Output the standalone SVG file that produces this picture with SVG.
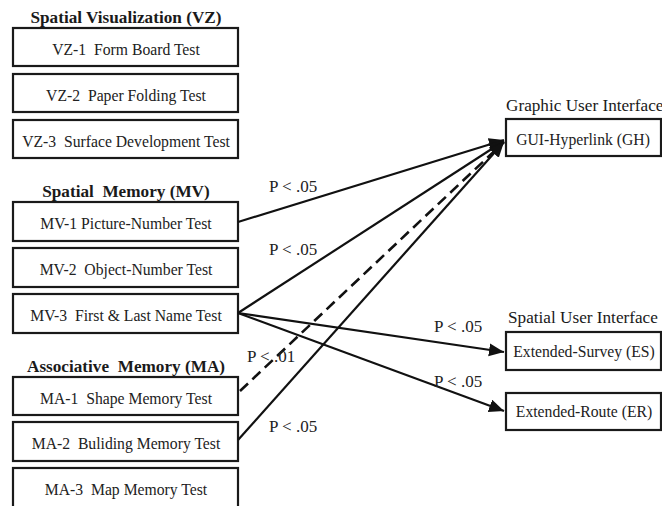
<svg xmlns="http://www.w3.org/2000/svg" width="662" height="506" viewBox="0 0 662 506" font-family="Liberation Serif, Times New Roman, serif">
  <style>
    text { font-family: 'Liberation Serif', 'Times New Roman', serif; white-space: pre; }
    .box { fill: #fff; stroke: #1a1a1a; stroke-width: 2.2; }
    .lbl { font-size: 15.7px; fill: #222; text-anchor: middle; }
    .head { font-size: 17.2px; font-weight: bold; fill: #1a1a1a; text-anchor: middle; }
    .rhead { font-size: 17.2px; fill: #1a1a1a; }
    .p { font-size: 17px; fill: #222; }
    .edge { fill: none; stroke: #111; stroke-width: 2.2; marker-end: url(#arrow); }
    .dash { stroke-dasharray: 11 6; stroke-width: 2.6; }
  </style>
  <defs>
    <marker id="arrow" markerUnits="userSpaceOnUse" markerWidth="18" markerHeight="14" refX="15" refY="6.5" orient="auto">
      <path d="M0,0 L15,6.5 L0,13 z" fill="#111"/>
    </marker>
  </defs>
  <rect width="662" height="506" fill="#fff"/>

  <!-- group headings -->
  <text class="head" x="126" y="23">Spatial Visualization (VZ)</text>
  <text class="head" x="126" y="197">Spatial  Memory (MV)</text>
  <text class="head" x="126" y="372">Associative  Memory (MA)</text>
  <text class="rhead" x="506" y="111">Graphic User Interface</text>
  <text class="rhead" x="508" y="323">Spatial User Interface</text>

  <!-- spatial visualization tests -->
  <g id="vz1"><rect class="box" x="13" y="28" width="225" height="38"/><text class="lbl" x="126" y="55">VZ-1  Form Board Test</text></g>
  <g id="vz2"><rect class="box" x="13" y="74" width="225" height="38"/><text class="lbl" x="126" y="101">VZ-2  Paper Folding Test</text></g>
  <g id="vz3"><rect class="box" x="13" y="120" width="225" height="38"/><text class="lbl" x="126" y="147">VZ-3  Surface Development Test</text></g>

  <!-- spatial memory tests -->
  <g id="mv1"><rect class="box" x="13" y="202" width="225" height="39"/><text class="lbl" x="126" y="229">MV-1 Picture-Number Test</text></g>
  <g id="mv2"><rect class="box" x="13" y="248" width="225" height="39"/><text class="lbl" x="126" y="275">MV-2  Object-Number Test</text></g>
  <g id="mv3"><rect class="box" x="13" y="294" width="225" height="39"/><text class="lbl" x="126" y="321">MV-3  First &amp; Last Name Test</text></g>

  <!-- associative memory tests -->
  <g id="ma1"><rect class="box" x="13" y="377" width="225" height="38"/><text class="lbl" x="126" y="404">MA-1  Shape Memory Test</text></g>
  <g id="ma2"><rect class="box" x="13" y="422" width="225" height="39"/><text class="lbl" x="126" y="449">MA-2  Buliding Memory Test</text></g>
  <g id="ma3"><rect class="box" x="13" y="468" width="225" height="40"/><text class="lbl" x="126" y="495">MA-3  Map Memory Test</text></g>

  <!-- interface conditions -->
  <g id="gh"><rect class="box" x="506" y="119" width="155" height="37"/><text class="lbl" x="583" y="145">GUI-Hyperlink (GH)</text></g>
  <g id="es"><rect class="box" x="506" y="332" width="155" height="38"/><text class="lbl" x="584" y="357">Extended-Survey (ES)</text></g>
  <g id="er"><rect class="box" x="506" y="393" width="155" height="37"/><text class="lbl" x="584" y="417">Extended-Route (ER)</text></g>

  <!-- significant paths -->
  <g id="connectors">
    <line class="edge" x1="238" y1="222" x2="504" y2="140"/>
    <line class="edge" x1="238" y1="313" x2="504" y2="141"/>
    <line class="edge dash" x1="240" y1="391" x2="504" y2="142"/>
    <line class="edge" x1="238" y1="440" x2="504" y2="142"/>
    <line class="edge" x1="238" y1="313" x2="504" y2="352"/>
    <line class="edge" x1="238" y1="313" x2="504" y2="411"/>
  </g>

  <!-- path labels -->
  <text class="p" x="269" y="192">P &lt; .05</text>
  <text class="p" x="269" y="255">P &lt; .05</text>
  <text class="p" x="434" y="332">P &lt; .05</text>
  <text class="p" x="434" y="387">P &lt; .05</text>
  <text class="p" x="247" y="362">P &lt; .01</text>
  <text class="p" x="269" y="432">P &lt; .05</text>
</svg>
